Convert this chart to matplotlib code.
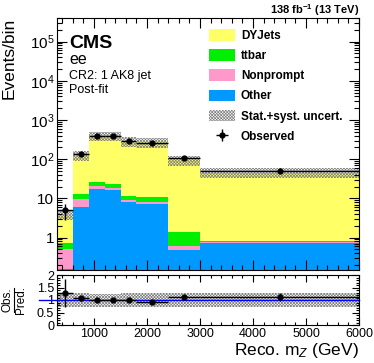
import numpy as np
import matplotlib
matplotlib.use("Agg")
import matplotlib.pyplot as plt
from matplotlib.patches import Patch
from matplotlib.lines import Line2D
from matplotlib.ticker import FixedLocator, MultipleLocator, LogLocator, NullFormatter

plt.rcParams['font.family'] = ['Liberation Sans', 'DejaVu Sans']
plt.rcParams['mathtext.fontset'] = 'custom'
plt.rcParams['mathtext.rm'] = 'Liberation Sans'
plt.rcParams['mathtext.it'] = 'Liberation Sans:italic'
plt.rcParams['mathtext.bf'] = 'Liberation Sans:bold'
plt.rcParams['hatch.linewidth'] = 0.5

# bin edges (GeV)
edges = [300, 600, 900, 1200, 1500, 1800, 2400, 3000, 6000]
# post-fit stack components (events per bin)
other = [0.16, 6.2, 17.0, 16.5, 8.0, 7.2, 0.48, 0.73]
nonprompt = [0.36, 3.7, 4.0, 1.5, 1.3, 1.1, 0.14, 0.06]
ttbar = [0.23, 3.3, 6.0, 5.0, 2.5, 2.4, 0.75, 0.03]
dyjets = [3.15, 111, 373, 377, 273, 261, 94, 45]
# observed data
observed = [5, 133, 400, 400, 285, 255, 105, 51]
# relative total uncertainty
unc = [0.28, 0.27, 0.26, 0.26, 0.27, 0.28, 0.28, 0.28]

c_dy = '#ffff66'
c_tt = '#00ee00'
c_np = '#ff99cc'
c_ot = '#0099ff'

edges = np.array(edges, dtype=float)
widths = np.diff(edges)
centers = edges[:-1] + widths / 2
other = np.array(other); nonprompt = np.array(nonprompt)
ttbar = np.array(ttbar); dyjets = np.array(dyjets)
observed = np.array(observed, dtype=float); unc = np.array(unc)
total = other + nonprompt + ttbar + dyjets

fig = plt.figure(figsize=(3.74, 3.63), dpi=100)
ax = fig.add_axes([57/374, 93/363, 302/374, 252/363])
rax = fig.add_axes([57/374, 38/363, 302/374, 50/363])

# stack
bottom = np.zeros_like(total)
for vals, col in [(other, c_ot), (nonprompt, c_np), (ttbar, c_tt), (dyjets, c_dy)]:
    ax.bar(edges[:-1], vals, width=widths, bottom=bottom, align='edge',
           color=col, linewidth=0)
    bottom = bottom + vals

hatch = 'x' * 11
hcol = '#808080'
ax.fill_between(edges, np.append(total * (1 - unc), total[-1] * (1 - unc[-1])),
                np.append(total * (1 + unc), total[-1] * (1 + unc[-1])),
                step='post', facecolor='none', edgecolor=hcol, hatch=hatch, linewidth=0)
eb = ax.errorbar(centers, observed, xerr=widths / 2, yerr=np.sqrt(observed),
                 fmt='o', color='black', ms=3.5, elinewidth=1, capsize=0)

ax.set_yscale('log')
ax.set_xlim(300, 6000)
ax.set_ylim(0.15, 4e5)
ax.yaxis.set_major_locator(FixedLocator([1, 10, 1e2, 1e3, 1e4, 1e5]))
ax.set_yticklabels(['1', '10', '$10^2$', '$10^3$', '$10^4$', '$10^5$'])
ax.yaxis.set_minor_locator(LogLocator(base=10, subs=np.arange(2, 10), numticks=20))
ax.yaxis.set_minor_formatter(NullFormatter())
ax.xaxis.set_major_locator(MultipleLocator(1000))
ax.xaxis.set_minor_locator(MultipleLocator(200))
ax.tick_params(axis='x', labelbottom=False)
for a in (ax, rax):
    a.tick_params(which='both', direction='in', top=True, right=True, width=0.8)
    a.tick_params(which='major', length=7)
    a.tick_params(which='minor', length=3.5)
ax.tick_params(axis='y', labelsize=11, pad=2)
ax.set_ylabel('Events/bin', fontsize=12.5, loc='top')
ax.yaxis.set_label_coords(-0.135, 1.0)

ax.text(0.04, 0.9, 'CMS', transform=ax.transAxes, fontsize=14, fontweight='bold', va='center')
ax.text(0.04, 0.835, 'ee', transform=ax.transAxes, fontsize=11.5, va='center')
ax.text(0.04, 0.77, 'CR2: 1 AK8 jet', transform=ax.transAxes, fontsize=9, va='center')
ax.text(0.04, 0.715, 'Post-fit', transform=ax.transAxes, fontsize=9, va='center')
fig.text(359/374, 1 - 14/363, '138 fb$^{\\mathbf{-1}}$ (13 TeV)',
         fontsize=8, fontweight='bold', ha='right', va='baseline')

handles = [Patch(facecolor=c_dy, edgecolor='none'), Patch(facecolor=c_tt, edgecolor='none'),
           Patch(facecolor=c_np, edgecolor='none'), Patch(facecolor=c_ot, edgecolor='none'),
           Patch(facecolor='white', edgecolor=hcol, hatch=hatch, linewidth=0), eb]
labels = ['DYJets', 'ttbar', 'Nonprompt', 'Other', 'Stat.+syst. uncert.', 'Observed']
fig.legend(handles, labels, loc='upper left', bbox_to_anchor=(209/374, 1 - 29/363),
           frameon=False, borderpad=0, borderaxespad=0, handlelength=2.2, handleheight=1.15,
           handletextpad=0.5, labelspacing=0.62, prop={'weight': 'bold', 'size': 8.5})

# ratio panel
rax.fill_between(edges, np.append(1 - unc, 1 - unc[-1]), np.append(1 + unc, 1 + unc[-1]),
                 step='post', facecolor='none', edgecolor=hcol, hatch=hatch, linewidth=0)
rax.axhline(1, xmin=-0.06, xmax=1, color='blue', lw=1, clip_on=False)
rax.errorbar(centers, observed / total, xerr=widths / 2, yerr=np.sqrt(observed) / total,
             fmt='o', color='black', ms=3.5, elinewidth=1, capsize=0)
rax.set_xlim(300, 6000)
rax.set_ylim(0, 2)
rax.yaxis.set_major_locator(FixedLocator([0, 0.5, 1, 1.5, 2]))
rax.set_yticklabels(['0', '0.5', '1', '1.5', '2'])
rax.yaxis.set_minor_locator(MultipleLocator(0.1))
rax.xaxis.set_major_locator(MultipleLocator(1000))
rax.xaxis.set_minor_locator(MultipleLocator(200))
rax.tick_params(which='major', length=5)
rax.tick_params(which='minor', length=2.5)
rax.tick_params(axis='both', labelsize=9, pad=2)
rax.set_xlabel('Reco. m$_{Z}$ (GeV)', fontsize=12.5, loc='right', labelpad=1)

# ratio y label drawn as a rotated fraction
ymid = 1 - 300/363
fig.text(8/374, ymid, 'Obs.', rotation=90, fontsize=8.5, ha='center', va='center')
fig.text(21/374, ymid, 'Pred.', rotation=90, fontsize=8.5, ha='center', va='center')
fig.add_artist(Line2D([14/374, 14/374], [ymid - 12/363, ymid + 12/363],
                      color='black', lw=0.8, transform=fig.transFigure))

fig.savefig('out.png', dpi=100)
